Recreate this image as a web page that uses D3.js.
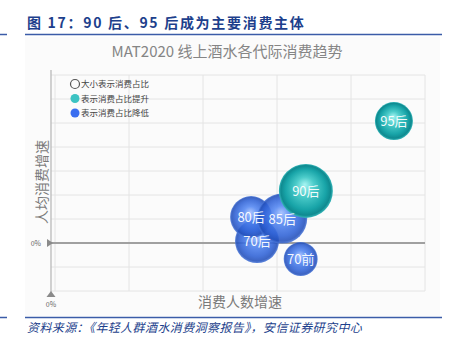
<!DOCTYPE html>
<html><head><meta charset="utf-8">
<script src="https://cdn.jsdelivr.net/npm/d3@7/dist/d3.min.js"></script>
<style>
html,body{margin:0;padding:0;background:#fff;}
svg{display:block;font-family:"Noto Sans CJK SC","Noto Sans",sans-serif;}
</style></head>
<body>
<svg id="c" width="459" height="352"></svg>
<script>
// ---- data ----
const generations = ["70后", "80后", "85后", "70前", "90后", "95后"];
const userGrowth  = [27.3, 26.5, 30.7, 33.2, 33.9, 45.8];   // 消费人数增速 (relative units)
const spendGrowth = [0.8, 10.8, 10.2, -6.7, 21.7, 50.8];     // 人均消费增速 (relative units)
const shareOfSpend = [14.6, 13.3, 18.9, 8.7, 22, 10.9];      // 消费占比 (bubble size)
const shareTrend  = ["down", "down", "down", "down", "up", "up"]; // 消费占比 提升/降低
const legendItems = ["大小表示消费占比", "表示消费占比提升", "表示消费占比降低"];
const xTicks = [0, 10, 20, 30, 40, 50];
const yTicks = [-20, -10, 0, 10, 20, 30, 40, 50, 60, 70];
const zeroLabel = "0%";

const svg = d3.select("#c");
const defs = svg.append("defs");

function grad(id, stops) {
  const g = defs.append("radialGradient").attr("id", id)
    .attr("cx", "50%").attr("cy", "50%").attr("r", "50%")
    .attr("fx", "48%").attr("fy", "38%");
  stops.forEach(s => g.append("stop").attr("offset", s[0]).attr("stop-color", s[1]));
}
grad("gUp", [["0%", "#a6f4f2"], ["35%", "#4cccca"], ["75%", "#18a4a8"], ["92%", "#0f8a90"], ["100%", "#37b8bb"]]);
grad("gDown", [["0%", "#9dbcff"], ["35%", "#5286f2"], ["75%", "#2f62d6"], ["92%", "#2350bb"], ["100%", "#4a78da"]]);

// header
svg.append("text").attr("x", 27).attr("y", 28)
  .attr("fill", "#1d3f8c").attr("font-size", 14).attr("font-weight", "bold")
  .attr("letter-spacing", 1.7)
  .text("图 17：90 后、95 后成为主要消费主体");
svg.append("line").attr("x1", 25).attr("x2", 442).attr("y1", 34.5).attr("y2", 34.5)
  .attr("stroke", "#3b5ca8").attr("stroke-width", 1.5);
svg.append("line").attr("x1", 0).attr("x2", 7).attr("y1", 34.5).attr("y2", 34.5)
  .attr("stroke", "#3b5ca8").attr("stroke-width", 1.5);

// chart image background
svg.append("rect").attr("x", 25).attr("y", 37).attr("width", 415).attr("height", 279).attr("fill", "#fbfbfb");

svg.append("text").attr("x", 227).attr("y", 57).attr("text-anchor", "middle")
  .attr("fill", "#858585").attr("font-size", 15)
  .text("MAT2020 线上酒水各代际消费趋势");

// scales
const x = d3.scaleLinear().domain([0, 50]).range([55, 425]);
const y = d3.scaleLinear().domain([-20, 70]).range([291, 75]);
const r = d3.scaleSqrt().domain([0, 22]).range([0, 27]);

// grid
svg.append("g").selectAll("line").data(xTicks).join("line")
  .attr("x1", d => x(d)).attr("x2", d => x(d)).attr("y1", y(70)).attr("y2", y(-20))
  .attr("stroke", "#e4e4e4").attr("stroke-width", 1);
svg.append("g").selectAll("line").data(yTicks).join("line")
  .attr("x1", 51).attr("x2", x(50)).attr("y1", d => y(d)).attr("y2", d => y(d))
  .attr("stroke", "#e4e4e4").attr("stroke-width", 1);

// axis line
svg.append("line").attr("x1", 51).attr("x2", 51).attr("y1", 70).attr("y2", 292)
  .attr("stroke", "#b5b5b5").attr("stroke-width", 1.2);
// zero line
svg.append("line").attr("x1", 51).attr("x2", x(50)).attr("y1", y(0)).attr("y2", y(0))
  .attr("stroke", "#a0a0a0").attr("stroke-width", 1.8);
// markers
svg.append("path").attr("d", `M${47},${y(0) - 4}L${53},${y(0)}L${47},${y(0) + 4}Z`).attr("fill", "#8a8a8a");
svg.append("text").attr("x", 41).attr("y", y(0) + 2.5).attr("text-anchor", "end")
  .attr("font-size", 7).attr("fill", "#666").text(zeroLabel);
svg.append("path").attr("d", `M${46.5},${297}L${51},${291}L${55.5},${297}Z`).attr("fill", "#8a8a8a");
svg.append("text").attr("x", 51).attr("y", 307).attr("text-anchor", "middle")
  .attr("font-size", 7).attr("fill", "#666").text(zeroLabel);

// axis titles
svg.append("text").attr("x", 240).attr("y", 307).attr("text-anchor", "middle")
  .attr("font-size", 14).attr("fill", "#7a7a7a").text("消费人数增速");
svg.append("text").attr("transform", "translate(47,182) rotate(-90)").attr("text-anchor", "middle")
  .attr("font-size", 14).attr("fill", "#7a7a7a").text("人均消费增速");

// legend
const lg = svg.append("g");
legendItems.forEach((t, i) => {
  const cy = 84 + i * 14.5;
  const c = lg.append("circle").attr("cx", 75).attr("cy", cy).attr("r", 4.5);
  if (i === 0) c.attr("fill", "none").attr("stroke", "#555").attr("stroke-width", 1.2);
  else c.attr("fill", i === 1 ? "#3cc3c3" : "#3a6ef0");
  lg.append("text").attr("x", 81).attr("y", cy + 3.2).attr("font-size", 8.5).attr("fill", "#444").text(t);
});

// bubbles
const data = generations.map((g, i) => ({ g, x: userGrowth[i], y: spendGrowth[i], s: shareOfSpend[i], t: shareTrend[i] }));
svg.append("g").selectAll("circle").data(data).join("circle")
  .attr("cx", d => x(d.x)).attr("cy", d => y(d.y)).attr("r", d => r(d.s))
  .attr("fill", d => d.t === "up" ? "url(#gUp)" : "url(#gDown)")
  .attr("opacity", d => d.t === "up" ? 1 : 0.88);
svg.append("g").selectAll("text").data(data).join("text")
  .attr("x", d => x(d.x)).attr("y", d => y(d.y) + 5)
  .attr("text-anchor", "middle").attr("font-size", 13).attr("fill", "#fff")
  .attr("fill-opacity", 0.95)
  .text(d => d.g);

// footer
svg.append("line").attr("x1", 25).attr("x2", 442).attr("y1", 317.5).attr("y2", 317.5)
  .attr("stroke", "#3b5ca8").attr("stroke-width", 1.5);
svg.append("line").attr("x1", 0).attr("x2", 7).attr("y1", 317.5).attr("y2", 317.5)
  .attr("stroke", "#3b5ca8").attr("stroke-width", 1.5);
svg.append("text").attr("x", 27).attr("y", 332).attr("font-size", 12).attr("fill", "#1d3f8c")
  .attr("font-style", "italic").attr("letter-spacing", 0.4)
  .text("资料来源：《年轻人群酒水消费洞察报告》，安信证券研究中心");
</script>
</body></html>
